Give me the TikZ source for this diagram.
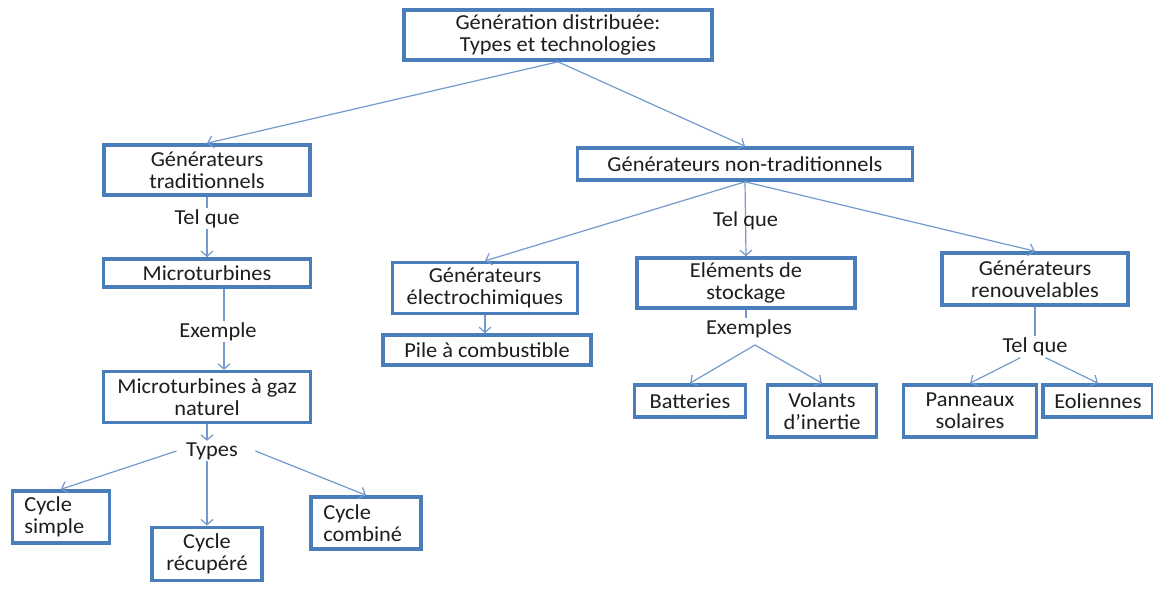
\documentclass[tikz,border=0pt]{standalone}
\usepackage{fontspec}
\setmainfont{Carlito}[FakeStretch=1.05]
\usepackage{tikz}
\usetikzlibrary{arrows.meta, positioning, calc}
\definecolor{boxblue}{HTML}{4A7EBB}
\definecolor{wireblue}{HTML}{7399CD}
\definecolor{inkgray}{HTML}{1E1E1E}
\tikzstyle{block} = [rectangle, draw=boxblue, line width=2.7pt, fill=white, align=center, inner sep=2pt, text=inkgray, font=\fontsize{16}{16.5}\selectfont]
\tikzstyle{leftblock} = [block, align=left]
\tikzstyle{wordlink} = [inner sep=1pt, text=inkgray, font=\fontsize{16}{16.5}\selectfont]
\tikzstyle{wire} = [draw=wireblue, line width=0.9pt]
\tikzstyle{wirearrow} = [wire, -{Straight Barb[length=4pt, width=9pt]}]

\begin{document}
\begin{tikzpicture}[x=0.75pt, y=-0.75pt]
\useasboundingbox (0,0) rectangle (1153,601);
% top of the tree
\node (top) [block, minimum width=231pt, minimum height=37.5pt] at (558,35) {Génération distribuée:\\Types et technologies};
\node (trad) [block, minimum width=154.5pt, minimum height=37.5pt] at (207,170) {Générateurs\\traditionnels};
\node (nontrad) [block, minimum width=251pt, minimum height=24pt] at (745,164) {Générateurs non-traditionnels};
% left branch
\node (micro) [block, minimum width=155pt, minimum height=21pt] at (207,273) {Microturbines};
\node (mgn) [block, minimum width=155pt, minimum height=38pt] at (207,397) {Microturbines à gaz\\naturel};
\node (types) [wordlink] at (212,451) {Types};
\node (simple) [leftblock, minimum width=73pt, minimum height=39pt, text width=55pt] at (61,517) {Cycle\\simple};
\node (recup) [block, minimum width=82.5pt, minimum height=40pt] at (207,554) {Cycle\\récupéré};
\node (combine) [leftblock, minimum width=82.5pt, minimum height=39pt, text width=64pt] at (366,523) {Cycle\\combiné};
% middle branch
\node (elec) [block, minimum width=139pt, minimum height=38pt] at (485,288) {Générateurs\\électrochimiques};
\node (pile) [block, minimum width=156pt, minimum height=22.5pt] at (487,350) {Pile à combustible};
\node (stock) [block, minimum width=163.5pt, minimum height=37.5pt] at (746,283) {Eléments de\\stockage};
\node (exemples) [wordlink] at (749,329) {Exemples};
\coordinate (fork) at (755,345);
\node (batt) [block, minimum width=83pt, minimum height=24pt] at (690,401) {Batteries};
\node (volants) [block, minimum width=82pt, minimum height=39pt] at (822,411) {Volants\\d’inertie};
% right branch
\node (renouv) [block, minimum width=139.5pt, minimum height=39pt] at (1035,279) {Générateurs\\renouvelables};
\node (telr) [wordlink] at (1035,347) {Tel que};
\node (panneaux) [block, minimum width=100pt, minimum height=39pt] at (970,411) {Panneaux\\solaires};
\node (eol) [block, minimum width=82.5pt, minimum height=24pt] at (1098,401) {Eoliennes};

\draw[wirearrow] (top.south) -- (trad.north);
\draw[wirearrow] (top.south) -- (nontrad.north);
\draw[wirearrow] (trad.south) -- node[wordlink, fill=white, pos=0.36] {Tel que} (micro.north);
\draw[wirearrow] ([xshift=12.75pt]micro.south) -- node[wordlink, fill=white, xshift=-4.5pt, pos=0.53] {Exemple} ([xshift=12.75pt]mgn.north);
\draw[wirearrow] (mgn.south) -- (mgn.south |- types.north);
\draw[wirearrow] ([xshift=-6pt]types.west) -- (simple.north);
\draw[wirearrow] (types.south -| recup.north) -- (recup.north);
\draw[wirearrow] ([xshift=12pt]types.east) -- (combine.north);
\draw[wirearrow] (nontrad.south) -- (elec.north);
\draw[wirearrow] (nontrad.south) -- node[wordlink, pos=0.52] {Tel que} (stock.north);
\draw[wirearrow] (nontrad.south) -- (renouv.north);
\draw[wirearrow] (elec.south) -- (elec.south |- pile.north);
\draw[wire] (stock.south) -- (stock.south |- exemples.north);
\draw[wirearrow] (fork) -- (batt.north);
\draw[wirearrow] (fork) -- (volants.north);
\draw[wire] (renouv.south) -- (telr.north);
\draw[wirearrow] ([xshift=-11pt]telr.south) -- (panneaux.north);
\draw[wirearrow] ([xshift=8pt]telr.south) -- (eol.north);
\end{tikzpicture}
\end{document}
